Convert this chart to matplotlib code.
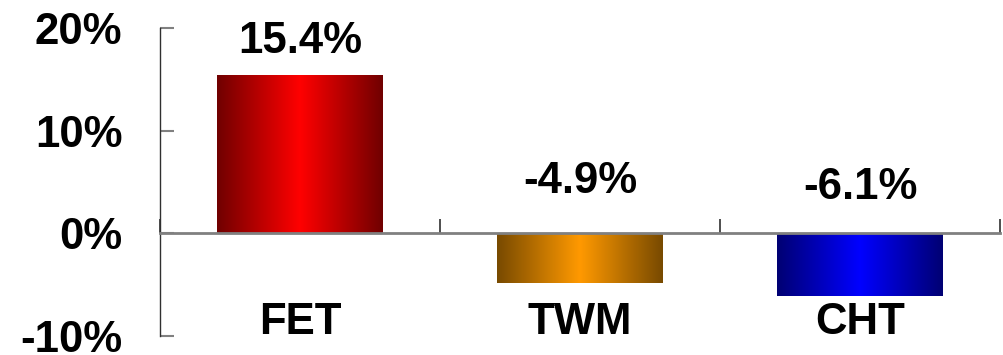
import numpy as np
import matplotlib
matplotlib.use("Agg")
import matplotlib.pyplot as plt
from matplotlib.colors import LinearSegmentedColormap

categories = ["FET", "TWM", "CHT"]
values = [15.4, -4.9, -6.1]
value_labels = ["15.4%", "-4.9%", "-6.1%"]
label_y = [17.6, 3.95, 3.3]
ytick_vals = [-10, 0, 10, 20]
ytick_labels = ["-10%", "0%", "10%", "20%"]
edge_colors = [(0.44, 0.0, 0.0), (0.47, 0.29, 0.0), (0.0, 0.0, 0.45)]
center_colors = [(1.0, 0.0, 0.0), (1.0, 0.6, 0.0), (0.0, 0.0, 1.0)]

plt.rcParams['font.family'] = ['Liberation Sans', 'DejaVu Sans']
FS = 31.5

fig = plt.figure(figsize=(10.04, 3.55), dpi=100)
ax = fig.add_axes([160/1004, 1-335.7/355, 840/1004, (335.7-28.3)/355])

x = np.arange(len(categories))
bars = ax.bar(x, values, width=0.59, color='none', edgecolor='none', zorder=2)

grad = np.linspace(0, 1, 256)
grad = 1 - np.abs(grad - 0.5) * 2  # 0 at edges, 1 at centre
for b, ec, cc in zip(bars, edge_colors, center_colors):
    cmap = LinearSegmentedColormap.from_list('g', [ec, cc])
    x0, y0 = b.get_x(), b.get_y()
    w, h = b.get_width(), b.get_height()
    im = ax.imshow(grad[np.newaxis, :], cmap=cmap, aspect='auto',
                   extent=[x0, x0 + w, min(y0, y0 + h), max(y0, y0 + h)],
                   zorder=2, interpolation='bilinear')
    im.set_clip_path(b)

ax.set_xlim(-0.5, 2.5)
ax.set_ylim(-10, 20)

for i, (lab, ly) in enumerate(zip(value_labels, label_y)):
    ax.text(x[i], ly, lab, ha='center', va='baseline', fontsize=FS,
            fontweight='bold', color='black')
for i, c in enumerate(categories):
    ax.text(x[i], -9.8, c, ha='center', va='baseline', fontsize=FS,
            fontweight='bold', color='black')

ax.spines['top'].set_visible(False)
ax.spines['right'].set_visible(False)
ax.spines['left'].set_color('#303030')
ax.spines['left'].set_linewidth(1.0)
ax.spines['bottom'].set_position(('data', 0))
ax.spines['bottom'].set_color('#808080')
ax.spines['bottom'].set_linewidth(2.0)
ax.spines['bottom'].set_zorder(3)

ax.set_yticks(ytick_vals)
ax.set_yticklabels(ytick_labels, fontsize=FS, fontweight='bold')
ax.tick_params(axis='y', direction='in', length=10, width=1.5,
               color='#808080', pad=27)
ax.set_xticks(np.arange(len(categories) + 1) - 0.5)
ax.set_xticklabels([])
ax.tick_params(axis='x', direction='in', length=10, width=1.2,
               color='#303030')

fig.savefig('out.png', dpi=100)
